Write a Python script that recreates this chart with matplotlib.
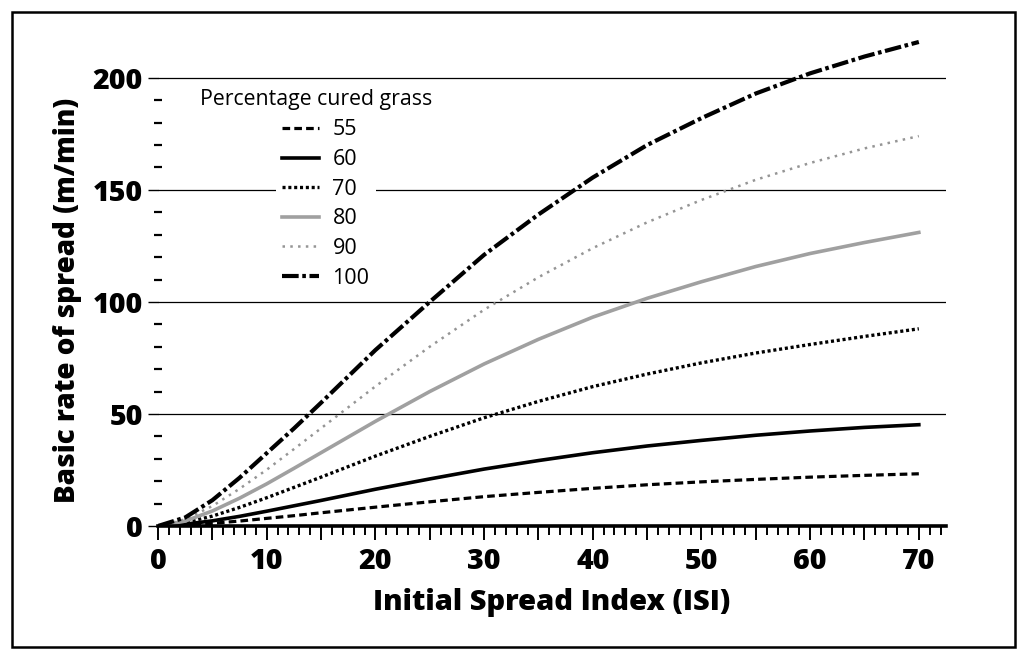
import matplotlib
matplotlib.use("Agg")
import matplotlib.pyplot as plt
from matplotlib.ticker import FixedLocator, MultipleLocator, FuncFormatter
from matplotlib.patches import Rectangle

plt.rcParams['lines.scale_dashes'] = False
plt.rcParams['font.family'] = ['Open Sans', 'DejaVu Sans']

# ---- data ----
isi = [0, 2.5, 5, 7.5, 10, 12.5, 15, 20, 25, 30, 35, 40, 45, 50, 55, 60, 65, 70]
ros_55 = [0, 0.4, 1.2, 2.2, 3.4, 4.6, 5.9, 8.4, 10.8, 13.1, 15.0, 16.8, 18.4, 19.7, 20.8, 21.8, 22.6, 23.3]
ros_60 = [0, 0.8, 2.3, 4.3, 6.6, 9.0, 11.4, 16.4, 21.0, 25.4, 29.2, 32.7, 35.7, 38.2, 40.5, 42.4, 44.0, 45.2]
ros_70 = [0, 1.5, 4.4, 8.3, 12.6, 17.2, 21.8, 31.2, 40.0, 48.3, 55.6, 62.2, 67.8, 72.8, 77.2, 81.0, 84.6, 88.0]
ros_80 = [0, 2.2, 6.7, 12.4, 18.8, 25.7, 32.7, 46.7, 60.0, 72.3, 83.3, 93.2, 101.6, 109.0, 115.8, 121.6, 126.5, 131.0]
ros_90 = [0, 3.0, 8.9, 16.6, 25.1, 34.3, 43.6, 62.3, 80.0, 96.5, 111.0, 124.0, 135.5, 145.5, 154.5, 162.0, 168.5, 174.0]
ros_100 = [0, 3.8, 11.5, 21.5, 32.5, 43.5, 55.0, 78.5, 100.0, 121.0, 139.0, 155.5, 170.0, 182.0, 193.0, 202.0, 209.5, 216.0]
labels = ['55', '60', '70', '80', '90', '100']
series = [ros_55, ros_60, ros_70, ros_80, ros_90, ros_100]
legend_title = 'Percentage cured grass'
x_ticks = [0, 10, 20, 30, 40, 50, 60, 70]
y_ticks = [0, 50, 100, 150, 200]

styles = [
    dict(color='black', lw=2.3, dashes=(5.5, 3.0), dash_capstyle='butt'),
    dict(color='black', lw=2.6, linestyle='-'),
    dict(color='black', lw=2.4, dashes=(2.2, 2.0), dash_capstyle='butt'),
    dict(color='#a0a0a0', lw=2.6, linestyle='-'),
    dict(color='#959595', lw=1.8, dashes=(1.8, 3.8), dash_capstyle='butt'),
    dict(color='black', lw=3.0, dashes=(12, 2.6, 2.6, 2.6), dash_capstyle='butt'),
]

W, H = 1019, 652
fig = plt.figure(figsize=(W / 100, H / 100), dpi=100)
x0, x1 = 158, 946
y0, y1 = 526, 33
ax = fig.add_axes([x0 / W, 1 - y0 / H, (x1 - x0) / W, (y0 - y1) / H])

for ys, lab, st in zip(series, labels, styles):
    ax.plot(isi, ys, label=lab, zorder=3, **st)

ax.set_xlim(0, 72.5)
ax.set_ylim(0, 220)

for s in ['top', 'right', 'left']:
    ax.spines[s].set_visible(False)
ax.spines['bottom'].set_linewidth(2.6)
ax.spines['bottom'].set_zorder(4)

# y axis ticks
ax.yaxis.set_major_locator(FixedLocator(y_ticks))
ax.yaxis.set_minor_locator(FixedLocator([v for v in range(10, 200, 10) if v % 50 != 0]))
ax.tick_params(axis='y', which='major', direction='out', length=7, width=1.0, pad=4)
ax.tick_params(axis='y', which='minor', direction='inout', length=6, width=1.6)
ax.grid(axis='y', which='major', color='black', lw=0.9, zorder=1)

# x axis ticks
ax.xaxis.set_major_locator(MultipleLocator(5))
ax.xaxis.set_minor_locator(MultipleLocator(1))
ax.xaxis.set_major_formatter(FuncFormatter(lambda v, p: f"{int(v)}" if int(round(v)) in x_ticks else ""))
ax.tick_params(axis='x', which='major', direction='out', length=10, width=1.4, pad=5)
ax.tick_params(axis='x', which='minor', direction='out', length=6.5, width=1.4)

for lbl in ax.get_xticklabels() + ax.get_yticklabels():
    lbl.set_fontsize(20.5)
    lbl.set_fontweight('heavy')

ax.set_xlabel('Initial Spread Index (ISI)', fontsize=21, fontweight='heavy', labelpad=9)
ax.set_ylabel('Basic rate of spread (m/min)', fontsize=20, fontweight='heavy')
ax.yaxis.set_label_coords(-0.097, (y0 - 300) / (y0 - y1))

# legend
leg = ax.legend(loc='upper left', bbox_to_anchor=(276 / W, 1 - 113 / H),
                bbox_transform=fig.transFigure, frameon=True, fontsize=15.5,
                handlelength=1.72, handletextpad=0.6, labelspacing=0.40,
                borderpad=0.3, borderaxespad=0)
leg.get_frame().set_facecolor('white')
leg.get_frame().set_edgecolor('none')
leg.get_frame().set_alpha(1.0)
leg.set_zorder(5)
fig.text(200 / W, 1 - 99 / H, legend_title, fontsize=15.3, ha='left', va='center')

# figure frame
fig.patches.append(Rectangle((12 / W, 5 / H), 1003 / W, 635 / H, transform=fig.transFigure,
                             fill=False, edgecolor='black', lw=1.8))

fig.savefig('out.png', dpi=100)
